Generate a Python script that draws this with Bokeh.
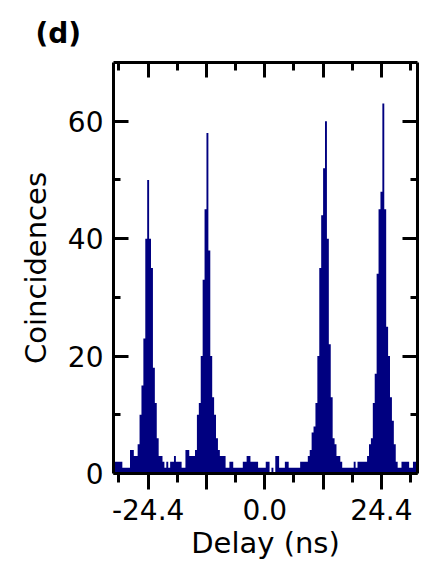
from bokeh.plotting import figure
from bokeh.models import Range1d, LinearAxis, FixedTicker, CustomJSTickFormatter, ColumnDataSource
from bokeh.embed import file_html
from bokeh.resources import INLINE

# Histogram of coincidences, 0.4 ns bins starting at -31.8 ns
BIN_START = -31.8
BIN_WIDTH = 0.4
counts = [
    2, 2, 2, 2, 2, 1, 1, 1, 1, 4,      # k0-9
    4, 3, 3, 5, 10, 15, 23, 40, 50, 40,  # k10-19
    35, 18, 12, 6, 3, 3, 2, 1, 2, 1,   # k20-29
    2, 2, 3, 2, 2, 2, 1, 1, 4, 4,      # k30-39
    3, 3, 3, 4, 10, 12, 20, 33, 45, 58,  # k40-49
    38, 20, 13, 10, 6, 4, 3, 3, 3, 1,  # k50-59
    1, 2, 2, 1, 1, 1, 1, 1, 2, 2,      # k60-69
    3, 3, 2, 2, 2, 2, 1, 1, 1, 1,      # k70-79
    2, 2, 0, 1, 0, 3, 3, 1, 1, 1,      # k80-89
    2, 2, 1, 1, 1, 1, 1, 1, 2, 2,      # k90-99
    2, 2, 3, 4, 7, 8, 12, 20, 35, 44,  # k100-109
    52, 60, 40, 22, 13, 6, 5, 3, 3, 2,  # k110-119
    1, 1, 1, 1, 1, 1, 2, 1, 2, 2,      # k120-129
    2, 2, 2, 3, 5, 6, 12, 17, 34, 45,  # k130-139
    48, 63, 45, 25, 20, 13, 9, 5, 2, 1,  # k140-149
    1, 2, 2, 2, 2, 1, 1, 2, 2, 2,      # k150-159
]
left_edges = [BIN_START + BIN_WIDTH * i for i in range(len(counts) + 1)]
step_counts = counts + [counts[-1]]

x_major = [-24.4, -12.2, 0.0, 12.2, 24.4]
x_minor = [-30.5, -18.3, -6.1, 6.1, 18.3, 30.5]
x_labels = {-24.4: "-24.4", -12.2: "", 0.0: "0.0", 12.2: "", 24.4: "24.4"}
y_major = [0, 20, 40, 60]
y_minor = [10, 30, 50]

FONT = "DejaVu Sans"
FS_TICK = "28px"
FS_AXIS = "29px"
NAVY = "#000080"

src = ColumnDataSource(dict(x=left_edges, y=step_counts))

p = figure(width=432, height=569, output_backend="svg", toolbar_location=None,
           x_range=Range1d(-31.65, 31.95), y_range=Range1d(0, 70),
           min_border_left=113, min_border_right=15, min_border_top=62, min_border_bottom=96,
           title="(d)")
p.outline_line_color = None
p.grid.visible = False
p.background_fill_color = "white"
p.border_fill_color = "white"

p.title.text_font = FONT
p.title.text_font_size = "28px"
p.title.text_font_style = "bold"
p.title.text_color = "black"
p.title.align = "left"
p.title.offset = -78
p.title.standoff = 26

p.varea_step(x="x", y1=0, y2="y", source=src, step_mode="after", fill_color=NAVY)

xt = FixedTicker(ticks=x_major, minor_ticks=x_minor)
yt = FixedTicker(ticks=y_major, minor_ticks=y_minor)
blank = CustomJSTickFormatter(code="return '';")

def style(ax, tin, tout, mtin, mtout):
    ax.axis_line_width = 3
    ax.axis_line_color = "black"
    ax.major_tick_line_width = 3
    ax.minor_tick_line_width = 3
    ax.major_tick_line_color = "black"
    ax.minor_tick_line_color = "black"
    ax.major_tick_in = tin
    ax.major_tick_out = tout
    ax.minor_tick_in = mtin
    ax.minor_tick_out = mtout
    ax.major_label_text_font = FONT
    ax.major_label_text_font_size = FS_TICK
    ax.major_label_text_color = "black"
    ax.axis_label_text_font = FONT
    ax.axis_label_text_font_size = FS_AXIS
    ax.axis_label_text_font_style = "normal"
    ax.axis_label_text_color = "black"

xa = p.xaxis[0]
xa.ticker = xt
xa.major_label_overrides = x_labels
xa.axis_label = "Delay (ns)"
style(xa, 0, 16, 0, 9)
xa.major_label_standoff = 9
xa.axis_label_standoff = 3

ya = p.yaxis[0]
ya.ticker = yt
ya.axis_label = "Coincidences"
style(ya, 15, 0, 7, 0)
ya.major_label_standoff = 10
ya.axis_label_standoff = 12

top = LinearAxis(ticker=xt, formatter=blank)
style(top, 15, 0, 8, 0)
top.major_label_standoff = 0
p.add_layout(top, "above")

right = LinearAxis(ticker=yt, formatter=blank)
style(right, 15, 0, 7, 0)
right.major_label_standoff = 0
p.add_layout(right, "right")

open("out.html", "w").write(file_html(p, INLINE))
